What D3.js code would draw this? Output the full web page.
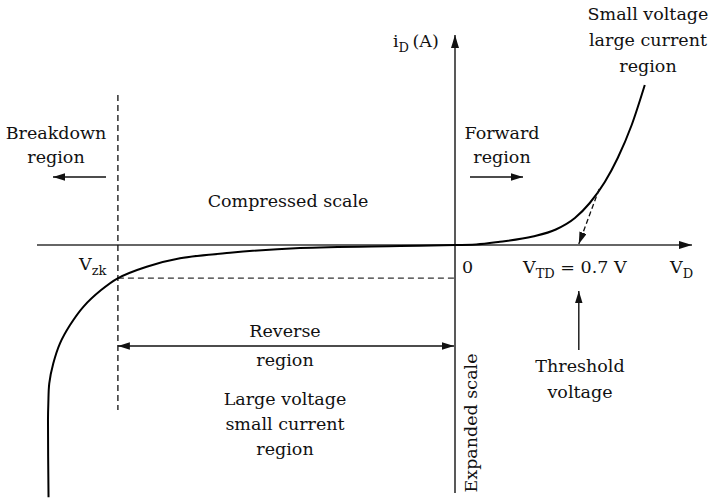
<!DOCTYPE html>
<html>
<head>
<meta charset="utf-8">
<script src="https://cdn.jsdelivr.net/npm/d3@7"></script>
<style>
  html, body { margin: 0; padding: 0; background: #fff; }
</style>
</head>
<body>
<svg id="chart" width="711" height="498"></svg>
<script>
// ---- Data (schematic diode characteristic; reverse side compressed, current below axis expanded) ----
// Voltage (V, reverse side in compressed units) and current (forward mA, reverse expanded units)
const forwardV = [0, 0.12, 0.254, 0.440, 0.570, 0.678, 0.762, 0.847, 0.920, 0.999, 1.073];
const forwardI = [0, 0.03, 0.165, 0.425, 0.775, 1.35, 2.1, 3.15, 4.35, 6.0, 8.0];
const reverseV = [-6.029, -6.037, -6.032, -6.018, -5.958, -5.859, -5.710, -5.513, -5.249, -5.003, -4.573, -4.079, -3.337, -2.299, -0.816, 0];
const reverseI = [-3.0, -2.083, -1.885, -1.646, -1.408, -1.170, -0.952, -0.735, -0.536, -0.396, -0.258, -0.158, -0.092, -0.036, -0.012, 0];
const vZener = -5.0;        // V_zk
const iZener = -0.393;      // current at V_zk
const vThreshold = 0.7;     // V_TD
const tangentFrom = [0.815, 2.8];

const FONT = "'DejaVu Serif', 'Liberation Serif', 'Noto Serif', serif";
const svg = d3.select("#chart").attr("font-family", FONT);

// piecewise scales: compressed reverse voltage, expanded reverse current
const x = d3.scaleLinear().domain([-6.2, 0, 1.34]).range([37, 455, 692]);
const y = d3.scaleLinear().domain([-2.95, 0, 10.5]).range([493, 245, 35]);

const defs = svg.append("defs");
function marker(id, size) {
  defs.append("marker")
    .attr("id", id).attr("viewBox", "0 0 10 10")
    .attr("refX", 10).attr("refY", 5)
    .attr("markerUnits", "userSpaceOnUse")
    .attr("markerWidth", size).attr("markerHeight", size * 0.62)
    .attr("orient", "auto-start-reverse")
    .attr("preserveAspectRatio", "none")
    .append("path").attr("d", "M0,0 L10,5 L0,10 z").attr("fill", "#111");
}
marker("arr", 13);
marker("arrS", 12);

// axes
svg.append("line")
  .attr("x1", x.range()[0]).attr("x2", x.range()[2])
  .attr("y1", y(0)).attr("y2", y(0))
  .attr("stroke", "#333").attr("stroke-width", 1.5)
  .attr("marker-end", "url(#arr)");
svg.append("line")
  .attr("x1", x(0)).attr("x2", x(0))
  .attr("y1", y.range()[0]).attr("y2", y.range()[2])
  .attr("stroke", "#222").attr("stroke-width", 1.5)
  .attr("marker-end", "url(#arr)");

// dashed reference lines at V_zk
svg.append("line")
  .attr("x1", x(vZener)).attr("x2", x(vZener))
  .attr("y1", 95).attr("y2", 410)
  .attr("stroke", "#111").attr("stroke-width", 1.3).attr("stroke-dasharray", "6,4");
svg.append("line")
  .attr("x1", x(vZener)).attr("x2", x(0))
  .attr("y1", y(iZener)).attr("y2", y(iZener))
  .attr("stroke", "#333").attr("stroke-width", 1.3).attr("stroke-dasharray", "6,4");

// characteristic curve: reverse branch and forward branch
const revPts = reverseV.map((v, i) => [v, reverseI[i]]);
const fwdPts = forwardV.map((v, i) => [v, forwardI[i]]);
svg.append("path")
  .datum(revPts)
  .attr("d", d3.line().x(d => x(d[0])).y(d => y(d[1])).curve(d3.curveCatmullRom.alpha(0.5)))
  .attr("fill", "none").attr("stroke", "#000").attr("stroke-width", 2);
svg.append("path")
  .datum(fwdPts)
  .attr("d", d3.line().x(d => x(d[0])).y(d => y(d[1])).curve(d3.curveMonotoneX))
  .attr("fill", "none").attr("stroke", "#000").attr("stroke-width", 2);

// tangent dashed arrow to threshold
svg.append("line")
  .attr("x1", x(tangentFrom[0])).attr("y1", y(tangentFrom[1]))
  .attr("x2", x(vThreshold)).attr("y2", y(0) - 1)
  .attr("stroke", "#111").attr("stroke-width", 1.3).attr("stroke-dasharray", "5,3")
  .attr("marker-end", "url(#arrS)");

// threshold arrow
svg.append("line")
  .attr("x1", x(vThreshold)).attr("x2", x(vThreshold))
  .attr("y1", 350).attr("y2", 291)
  .attr("stroke", "#111").attr("stroke-width", 1.4)
  .attr("marker-end", "url(#arrS)");

// region arrows
svg.append("line").attr("x1", 106).attr("x2", 53).attr("y1", 177).attr("y2", 177)
  .attr("stroke", "#111").attr("stroke-width", 1.4).attr("marker-end", "url(#arrS)");
svg.append("line").attr("x1", 470).attr("x2", 523).attr("y1", 177).attr("y2", 177)
  .attr("stroke", "#111").attr("stroke-width", 1.4).attr("marker-end", "url(#arrS)");
svg.append("line").attr("x1", x(vZener)).attr("x2", x(0) - 1).attr("y1", 346).attr("y2", 346)
  .attr("stroke", "#111").attr("stroke-width", 1.4)
  .attr("marker-start", "url(#arrS)").attr("marker-end", "url(#arrS)");

// text labels
const FS = 17.5;
function label(lines, cx, y0, dy, anchor) {
  lines.forEach((t, i) => {
    svg.append("text").attr("x", cx).attr("y", y0 + i * dy)
      .attr("font-family", FONT).attr("fill", "#111")
      .attr("text-anchor", anchor || "middle").attr("font-size", FS).text(t);
  });
}
label(["Breakdown", "region"], 56, 139, 24);
label(["Compressed scale"], 288, 207, 0);
label(["Forward", "region"], 502, 139, 24);
label(["Small voltage", "large current", "region"], 648, 20, 26);
label(["Reverse"], 285, 337, 0);
label(["region"], 285, 366, 0);
label(["Large voltage", "small current", "region"], 285, 405, 25);
label(["Threshold", "voltage"], 580, 372, 26);
label(["0"], 462, 273, 0, "start");

function subText(xp, yp, parts) {
  const t = svg.append("text").attr("x", xp).attr("y", yp)
    .attr("font-family", FONT).attr("fill", "#111").attr("font-size", FS);
  parts.forEach(p => {
    const s = t.append("tspan").text(p.t);
    if (p.sub) s.attr("font-size", 13).attr("dy", 5);
    if (p.back) s.attr("dy", -5);
  });
  return t;
}
subText(393, 47, [{t: "i"}, {t: "D", sub: true}, {t: "\u2009(A)", back: true}]);
subText(523, 273, [{t: "V"}, {t: "TD", sub: true}, {t: " = 0.7 V", back: true}]);
subText(670, 273, [{t: "V"}, {t: "D", sub: true}]);
subText(79, 270, [{t: "V"}, {t: "zk", sub: true}]);

svg.append("text")
  .attr("transform", "translate(477,423) rotate(-90)")
  .attr("font-family", FONT).attr("fill", "#111")
  .attr("text-anchor", "middle").attr("font-size", FS)
  .text("Expanded scale");
</script>
</body>
</html>
